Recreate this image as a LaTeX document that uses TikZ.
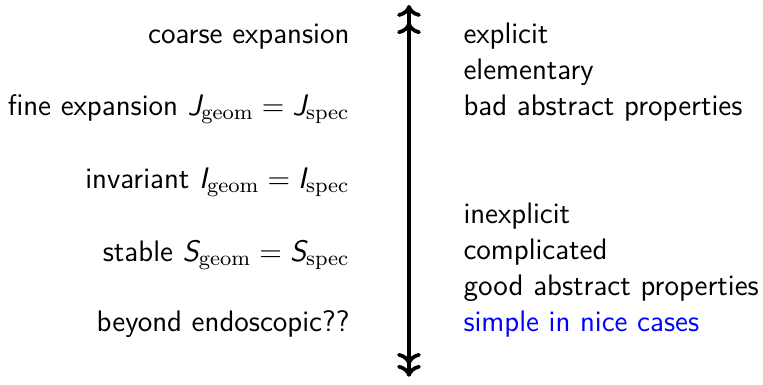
\documentclass[tikz,border=0pt]{standalone}
\usepackage{xcolor}
\usepackage{tikz}
\usetikzlibrary{arrows.meta}

\tikzset{
    lefttext/.style={anchor=base east, inner sep=0pt, font=\sffamily\fontsize{11.2pt}{13.6pt}\selectfont},
    righttext/.style={anchor=base west, inner sep=0pt, font=\sffamily\fontsize{11.2pt}{13.6pt}\selectfont},
    scalearrow/.style={line width=1.4pt, {To[length=4.5pt,width=9pt,sep=2pt]To[length=4.5pt,width=9pt]}-{To[length=4.5pt,width=9pt,sep=2pt]To[length=4.5pt,width=9pt]}}
}
\newcommand{\slJ}[1]{$\mbox{\slshape #1}_{\mathrm{geom}} = \mbox{\slshape #1}_{\mathrm{spec}}$}

\begin{document}
\begin{tikzpicture}[x=0.01328cm, y=-0.01328cm]
    \useasboundingbox (0,0) rectangle (763,384);
    \coordinate (top) at (409,5);
    \coordinate (bottom) at (409,382);
    \draw[scalearrow] (bottom) -- (top);

    \node[lefttext] (coarse) at (350,43) {coarse expansion};
    \node[lefttext] (fine) at (350,115) {fine expansion \slJ{J}};
    \node[lefttext] (invariant) at (350,188) {invariant \slJ{I}};
    \node[lefttext] (stable) at (350,261) {stable \slJ{S}};
    \node[lefttext] (beyond) at (350,331) {beyond endoscopic??};

    \node[righttext] (explicit) at (463,43) {explicit};
    \node[righttext] (elementary) at (463,79) {elementary};
    \node[righttext] (bad) at (463,115) {bad abstract properties};
    \node[righttext] (inexplicit) at (463,223) {inexplicit};
    \node[righttext] (complicated) at (463,259) {complicated};
    \node[righttext] (good) at (463,295) {good abstract properties};
    \node[righttext, text=blue] (simple) at (463,331) {simple in nice cases};
\end{tikzpicture}
\end{document}
